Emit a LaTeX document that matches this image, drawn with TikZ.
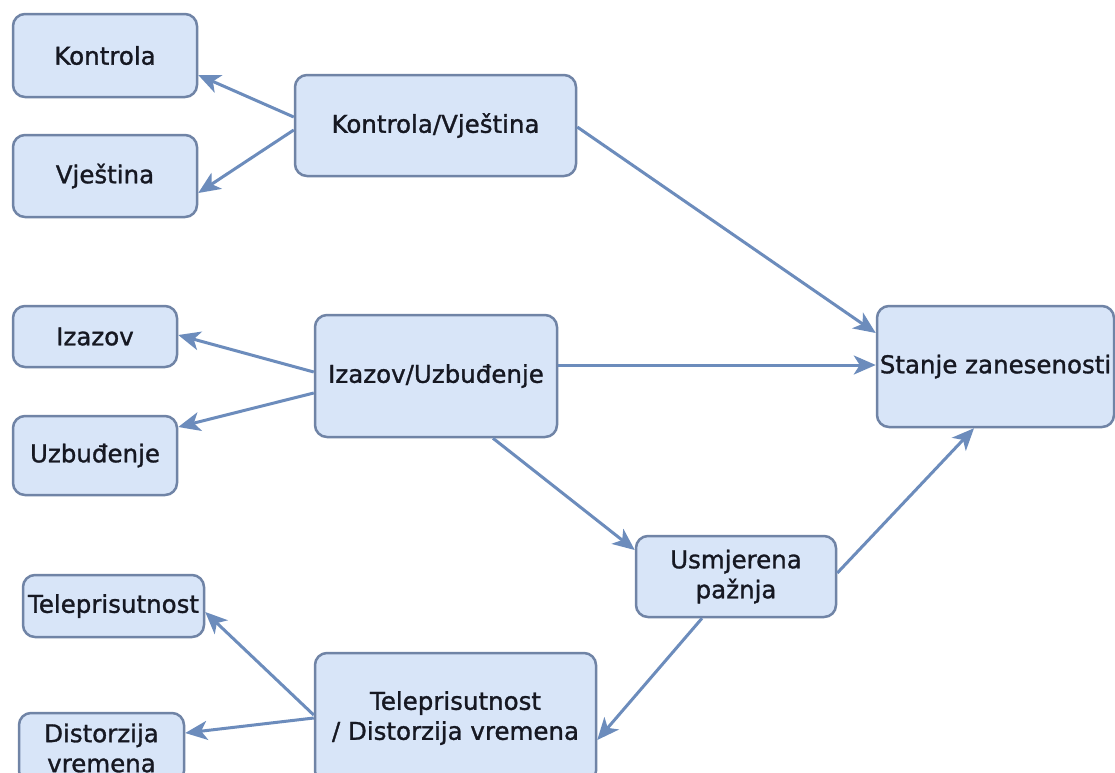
\documentclass[tikz,border=0pt]{standalone}
\usepackage{fontspec}
\setmainfont{DejaVu Sans}
\newfontfamily\boxfont[FakeBold=1.2]{DejaVu Sans}
\usetikzlibrary{arrows.meta,calc}
\definecolor{boxfill}{RGB}{216,229,248}
\definecolor{boxline}{RGB}{112,132,166}
\definecolor{arrowc}{RGB}{108,140,188}
\definecolor{txt}{RGB}{22,24,34}
\tikzset{
  box/.style={draw=boxline, fill=boxfill, line width=2.5pt, rounded corners=12pt,
    inner sep=0pt, align=center, text=txt, font=\boxfont\fontsize{24.5}{30}\selectfont},
  conn/.style={draw=arrowc, line width=3pt, -{Stealth[length=22pt,width=19pt,inset=6pt]}}
}
\begin{document}
\begin{tikzpicture}[x=1pt,y=-1pt]
\useasboundingbox (0,0) rectangle (1115,772);
\fill[white] (0,0) rectangle (1115,772);
% nodes
\node[box, minimum width=184pt, minimum height=83pt] (kon) at (105,55.5) {Kontrola};
\node[box, minimum width=184pt, minimum height=82pt] (vje) at (105,176) {Vještina};
\node[box, minimum width=281pt, minimum height=101pt] (kv) at (435.5,125.5) {Kontrola/Vještina};
\node[box, minimum width=164pt, minimum height=61pt] (iza) at (95,336.5) {Izazov};
\node[box, minimum width=164pt, minimum height=79pt] (uzb) at (95,455.5) {Uzbuđenje};
\node[box, minimum width=242pt, minimum height=122pt] (iu) at (436,376) {Izazov/Uzbuđenje};
\node[box, minimum width=237pt, minimum height=121pt] (sta) at (995.5,366.5) {Stanje zanesenosti};
\node[box, minimum width=200pt, minimum height=81pt] (usm) at (736,576.5) {Usmjerena\\pažnja};
\node[box, minimum width=181pt, minimum height=62pt] (tel) at (113.5,606) {Teleprisutnost};
\node[box, minimum width=281pt, minimum height=130pt] (td) at (455.5,718) {Teleprisutnost\\/ Distorzija vremena};
\node[box, minimum width=165pt, minimum height=70pt] (dis) at (101.5,748) {Distorzija\\vremena};
% connectors
\draw[conn] ($(kv.west)+(0,-8.5)$) -- ($(kon.east)+(0,19.5)$);
\draw[conn] ($(kv.west)+(0,4.5)$) -- ($(vje.east)+(0,17)$);
\draw[conn] ($(kv.east)+(0,1.5)$) -- ($(sta.west)+(0,-33.5)$);
\draw[conn] ($(iu.west)+(0,-4)$) -- ($(iza.east)+(0,-1.5)$);
\draw[conn] ($(iu.west)+(0,17)$) -- ($(uzb.east)+(0,-28.5)$);
\draw[conn] ($(iu.east)+(0,-11)$) -- ($(sta.west)+(0,-1.5)$);
\draw[conn] ($(iu.south)+(57,0)$) -- ($(usm.west)+(0,-26.5)$);
\draw[conn] ($(usm.east)+(0,-3.5)$) -- ($(sta.south)+(-21.5,0)$);
\draw[conn] ($(usm.south)+(-34,0)$) -- ($(td.east)+(0,22)$);
\draw[conn] ($(td.west)+(0,-3)$) -- ($(tel.east)+(0,6)$);
\draw[conn] ($(td.west)+(0,0)$) -- ($(dis.east)+(0,-15)$);
\end{tikzpicture}
\end{document}
